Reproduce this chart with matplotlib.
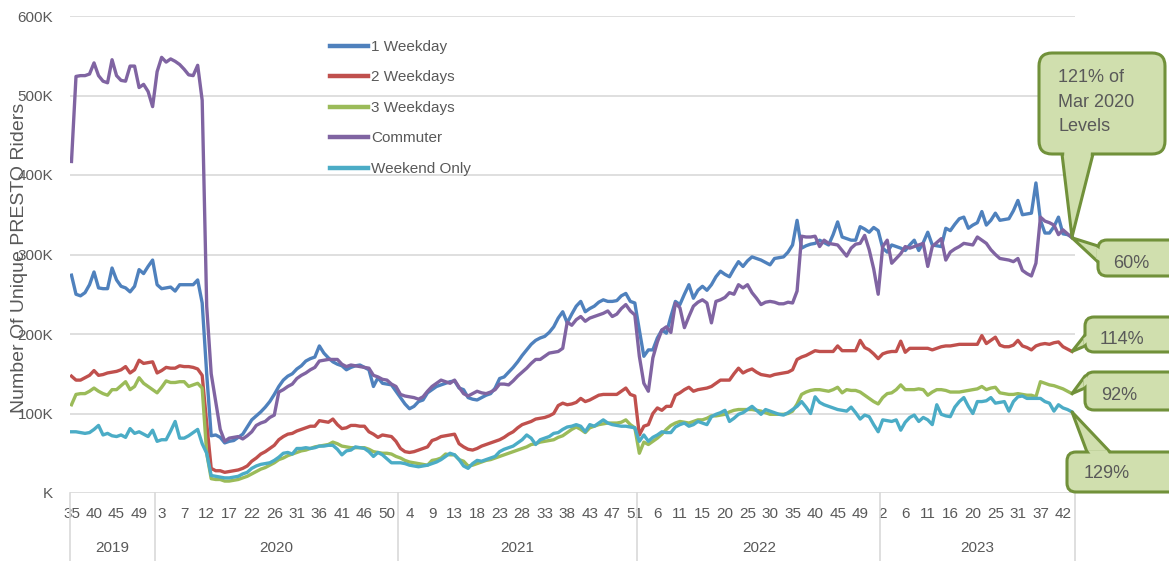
import matplotlib
matplotlib.use("Agg")
import matplotlib.pyplot as plt
import matplotlib.transforms as mtransforms
from matplotlib.patches import FancyBboxPatch, Polygon
import numpy as np

plt.rcParams['font.family'] = ['Liberation Sans', 'DejaVu Sans']

# ---------------- data (thousands of unique riders per week) ----------------
years = ['2019', '2020', '2021', '2022', '2023']
weeks_per_year = [19, 54, 53, 54, 43]
week_tick_labels = ['35', '40', '45', '49',
                    '3', '7', '12', '17', '22', '26', '31', '36', '41', '46', '50',
                    '4', '9', '13', '18', '23', '28', '33', '38', '43', '47', '51',
                    '6', '11', '15', '20', '25', '30', '35', '40', '45', '49',
                    '2', '6', '11', '16', '20', '25', '31', '37', '42']

one_weekday = [
    274, 250, 248, 252, 262, 278, 258, 257, 257, 283,
    268, 260, 258, 253, 260, 281, 276, 285, 293, 262,
    257, 258, 259, 254, 262, 262, 262, 262, 268, 239,
    150, 72, 73, 70, 63, 65, 66, 70, 74, 83,
    92, 97, 102, 108, 115, 124, 134, 142, 147, 150,
    156, 160, 166, 169, 171, 185, 176, 170, 165, 162,
    160, 155, 158, 160, 161, 158, 155, 134, 145, 138,
    137, 136, 128, 120, 112, 106, 109, 115, 117, 126,
    130, 134, 136, 138, 140, 141, 132, 130, 120, 118,
    117, 120, 123, 125, 132, 144, 146, 152, 158, 165,
    173, 180, 187, 192, 195, 197, 202, 209, 220, 228,
    214, 225, 235, 241, 228, 232, 235, 240, 243, 241,
    241, 242, 248, 251, 241, 239, 205, 172, 180, 180,
    195, 205, 201, 222, 241, 237, 250, 262, 245, 255,
    260, 255, 262, 272, 279, 275, 272, 282, 291, 285,
    292, 297, 295, 293, 290, 287, 295, 296, 297, 303,
    312, 343, 308, 311, 313, 314, 318, 315, 312, 325,
    341, 322, 320, 318, 318, 335, 332, 328, 334, 330,
    308, 303, 312, 310, 308, 305, 312, 318, 305, 315,
    328, 312, 311, 310, 333, 330, 338, 345, 347, 333,
    337, 340, 354, 337, 343, 352, 343, 344, 345, 355,
    368, 350, 351, 352, 390, 343, 327, 327, 335, 347,
    326, 325, 322]

two_weekdays = [
    147, 142, 142, 145, 148, 154, 148, 149, 151, 152,
    153, 155, 159, 151, 155, 167, 163, 164, 165, 151,
    154, 158, 157, 157, 160, 159, 159, 158, 156, 148,
    88, 31, 28, 28, 26, 27, 28, 29, 31, 34,
    40, 44, 49, 52, 56, 60, 67, 71, 74, 75,
    78, 80, 82, 84, 84, 91, 90, 89, 93, 86,
    81, 82, 85, 85, 84, 84, 77, 74, 70, 73,
    72, 71, 65, 56, 52, 51, 52, 54, 56, 58,
    66, 68, 71, 72, 73, 74, 62, 58, 55, 54,
    56, 59, 61, 63, 65, 67, 70, 74, 77, 82,
    86, 88, 90, 93, 94, 95, 97, 100, 110, 113,
    111, 112, 114, 119, 115, 117, 120, 123, 124, 124,
    124, 124, 128, 132, 124, 122, 73, 84, 86, 100,
    107, 104, 109, 109, 123, 126, 130, 133, 128, 130,
    131, 132, 134, 138, 142, 142, 142, 150, 157, 151,
    154, 156, 152, 149, 148, 147, 149, 150, 151, 152,
    155, 168, 171, 173, 176, 179, 178, 178, 178, 178,
    185, 179, 179, 179, 179, 192, 183, 180, 175, 169,
    175, 177, 178, 178, 191, 177, 182, 182, 182, 182,
    182, 180, 182, 184, 185, 185, 186, 187, 187, 187,
    187, 187, 198, 188, 192, 196, 186, 184, 184, 186,
    192, 185, 183, 180, 185, 187, 188, 187, 189, 190,
    184, 181, 178]

three_weekdays = [
    111, 124, 125, 125, 128, 132, 128, 125, 123, 130,
    130, 135, 140, 130, 134, 145, 138, 134, 130, 126,
    133, 141, 139, 139, 140, 140, 134, 136, 138, 132,
    50, 18, 17, 17, 15, 15, 16, 17, 19, 21,
    24, 27, 30, 32, 35, 38, 42, 44, 47, 49,
    51, 53, 54, 56, 58, 59, 60, 61, 64, 62,
    59, 58, 57, 57, 57, 57, 55, 52, 51, 50,
    50, 49, 46, 44, 41, 39, 38, 37, 36, 35,
    41, 42, 44, 49, 48, 48, 42, 40, 34, 35,
    37, 39, 41, 42, 44, 46, 48, 50, 52, 54,
    56, 58, 61, 62, 64, 65, 66, 67, 70, 72,
    76, 80, 83, 80, 76, 82, 84, 86, 87, 88,
    88, 88, 89, 92, 86, 82, 50, 64, 61, 65,
    69, 74, 80, 85, 88, 90, 89, 88, 90, 92,
    92, 94, 97, 97, 98, 99, 102, 104, 105, 105,
    105, 105, 104, 103, 101, 99, 99, 99, 99, 100,
    103, 112, 124, 127, 129, 130, 130, 129, 128, 130,
    133, 126, 130, 129, 129, 127, 123, 119, 115, 112,
    120, 125, 126, 130, 136, 130, 130, 130, 131, 130,
    123, 127, 130, 130, 129, 127, 127, 127, 128, 129,
    130, 131, 134, 130, 132, 133, 126, 125, 124, 124,
    125, 124, 123, 123, 121, 140, 138, 136, 135, 133,
    131, 128, 125]

commuter = [
    417, 524, 525, 525, 527, 541, 525, 518, 516, 545,
    525, 519, 518, 537, 537, 510, 514, 505, 486, 530,
    548, 542, 546, 543, 539, 533, 526, 525, 538, 494,
    235, 150, 115, 80, 65, 69, 70, 71, 68, 72,
    77, 85, 88, 90, 95, 98, 127, 130, 134, 137,
    144, 148, 151, 155, 158, 166, 167, 168, 168, 168,
    162, 159, 161, 160, 159, 158, 157, 148, 146, 143,
    142, 137, 134, 124, 122, 121, 120, 118, 121, 128,
    134, 138, 142, 140, 138, 142, 133, 125, 122, 125,
    128, 126, 125, 127, 130, 137, 137, 136, 141, 147,
    152, 157, 163, 168, 168, 172, 176, 177, 178, 182,
    215, 211, 218, 222, 216, 220, 222, 224, 226, 229,
    222, 225, 232, 237, 229, 224, 172, 138, 128, 170,
    190, 205, 209, 202, 239, 233, 208, 222, 235, 240,
    243, 239, 214, 241, 243, 246, 252, 250, 262, 258,
    262, 252, 245, 237, 240, 241, 240, 238, 238, 240,
    239, 254, 323, 322, 322, 323, 310, 318, 314, 313,
    312, 305, 298, 308, 313, 314, 324, 306, 282, 250,
    310, 318, 289, 295, 301, 310, 308, 310, 312, 314,
    285, 310, 315, 320, 293, 303, 307, 310, 314, 313,
    312, 322, 318, 314, 306, 300, 295, 294, 293, 291,
    295, 280, 276, 273, 289, 347, 342, 340, 337, 325,
    331, 326, 321]

weekend_only = [
    77, 77, 76, 75, 76, 80, 85, 73, 75, 72,
    71, 73, 70, 81, 75, 77, 74, 71, 79, 65,
    67, 67, 78, 90, 69, 69, 72, 76, 80, 62,
    50, 22, 21, 20, 19, 19, 20, 21, 24, 26,
    31, 34, 36, 37, 38, 41, 45, 50, 51, 49,
    56, 56, 57, 56, 57, 59, 59, 60, 60, 55,
    48, 53, 54, 58, 57, 56, 52, 46, 51, 48,
    43, 38, 38, 38, 37, 35, 34, 33, 34, 35,
    37, 39, 42, 46, 50, 48, 42, 34, 31, 37,
    41, 40, 42, 44, 46, 52, 55, 57, 59, 63,
    67, 73, 69, 61, 67, 69, 71, 75, 76, 80,
    83, 84, 86, 84, 77, 86, 84, 88, 92, 88,
    86, 85, 84, 84, 83, 82, 65, 73, 65, 70,
    73, 77, 76, 76, 83, 86, 88, 84, 86, 90,
    88, 86, 96, 99, 101, 104, 90, 94, 99, 101,
    105, 109, 104, 99, 105, 103, 101, 99, 98, 101,
    105, 109, 115, 108, 100, 121, 114, 111, 109, 107,
    105, 104, 103, 108, 101, 93, 98, 96, 86, 77,
    92, 91, 90, 92, 79, 89, 95, 98, 90, 95,
    92, 86, 111, 99, 97, 96, 108, 115, 120, 109,
    100, 115, 115, 116, 120, 113, 114, 115, 103, 115,
    121, 122, 119, 119, 119, 119, 115, 113, 103, 111,
    107, 105, 102]

series_names = ['1 Weekday', '2 Weekdays', '3 Weekdays', 'Commuter', 'Weekend Only']
series_values = [one_weekday, two_weekdays, three_weekdays, commuter, weekend_only]
series_colors = ['#4F81BD', '#C0504D', '#9BBB59', '#8064A2', '#4BACC6']

callout_texts = ['121% of\nMar 2020\nLevels', '60%', '114%', '92%', '129%']

n = sum(weeks_per_year)
for s in series_values:
    assert len(s) == n, len(s)

# ---------------- figure ----------------
W, H = 1169, 561
fig = plt.figure(figsize=(W / 100, H / 100), dpi=100)
ax = fig.add_axes([70 / W, 68 / H, 1005 / W, 477 / H])

x = np.arange(n)
lines = []
for name, vals, col in zip(series_names, series_values, series_colors):
    ln, = ax.plot(x, vals, color=col, lw=2.4, label=name, solid_joinstyle='round')
    lines.append(ln)

ax.set_xlim(-0.33, n - 1 + 0.67)
ax.set_ylim(0, 600)
for sp in ax.spines.values():
    sp.set_visible(False)

grey = '#595959'
ax.set_yticks(np.arange(0, 700, 100))
ax.set_yticklabels(['K'] + [f'{v}K' for v in range(100, 700, 100)])
ax.yaxis.grid(True, color='#D9D9D9', lw=1.2)
ax.set_axisbelow(True)
ax.tick_params(axis='y', length=0, pad=12, labelsize=11, labelcolor=grey)

ax.set_xticks(np.arange(0, n, 5))
ax.set_xticklabels(week_tick_labels)
ax.tick_params(axis='x', length=0, pad=10, labelsize=11, labelcolor=grey)

# year group labels and separators
trans = mtransforms.blended_transform_factory(ax.transData, ax.transAxes)
bounds = np.concatenate([[0], np.cumsum(weeks_per_year)]) - 0.5
bounds[0] = ax.get_xlim()[0]
bounds[-1] = ax.get_xlim()[1]
sep_bottom = -68 / 477
for b in bounds:
    ax.plot([b, b], [0, sep_bottom], transform=trans, color='#D9D9D9', lw=1.2,
            clip_on=False)
for i, yr in enumerate(years):
    ax.text((bounds[i] + bounds[i + 1]) / 2, -55 / 477, yr, transform=trans,
            ha='center', va='center', fontsize=11, color=grey)

fig.text(20 / W, 1 - 258 / H, 'Number Of Unique PRESTO Riders', rotation=90,
         ha='center', va='center', fontsize=14, color=grey)

leg = ax.legend(loc='upper left', bbox_to_anchor=(330 / W, 1 - 40 / H),
                bbox_transform=fig.transFigure, frameon=False, fontsize=11,
                labelspacing=1.08, handlelength=2.5, handletextpad=0.2,
                borderpad=0, borderaxespad=0)
for t in leg.get_texts():
    t.set_color(grey)
for lh in leg.get_lines():
    lh.set_linewidth(3.2)

# ---------------- callouts ----------------
ident = mtransforms.IdentityTransform()
fill_c = '#D0DFAE'
edge_c = '#71913A'


def callout(box, base, series_idx, radius):
    x0, y0, x1, y1 = box
    tip = ax.transData.transform((n - 1, series_values[series_idx][-1]))
    b1 = np.array([base[0][0], H - base[0][1]], float)
    b2 = np.array([base[1][0], H - base[1][1]], float)
    tipd = np.array(tip)
    ptr = Polygon([b1, tipd, b2], closed=True, facecolor=fill_c, edgecolor=edge_c,
                  lw=2.2, transform=ident, zorder=5, joinstyle='round')
    fig.add_artist(ptr)
    rect = FancyBboxPatch((x0, H - y1), x1 - x0, y1 - y0,
                          boxstyle=f'round,pad=0,rounding_size={radius}',
                          facecolor=fill_c, edgecolor=edge_c, lw=2.2,
                          transform=ident, zorder=6)
    fig.add_artist(rect)
    # cover the box border where the pointer joins
    d = (b2 - b1) / np.linalg.norm(b2 - b1)
    mid = (b1 + b2) / 2
    out = tipd - mid
    out = out / np.linalg.norm(out)
    c1 = b1 + d * 2.2
    c2 = b2 - d * 2.2
    cov = Polygon([c1 + out * 2.2, c2 + out * 2.2, c2 - out * 3, c1 - out * 3],
                  closed=True, facecolor=fill_c, edgecolor='none',
                  transform=ident, zorder=7)
    fig.add_artist(cov)


callout((1039, 53, 1165, 154), ((1062, 154), (1093, 154)), 0, 13)
callout((1098, 240, 1185, 276), ((1098, 246), (1098, 262)), 3, 9)
callout((1085, 317, 1185, 352), ((1085, 335), (1085, 346)), 1, 9)
callout((1085, 372, 1185, 410), ((1085, 376), (1085, 388)), 2, 9)
callout((1067, 452, 1185, 492), ((1087, 452), (1110, 452)), 4, 9)

txt_kw = dict(fontsize=13, color=grey, va='center', ha='left', zorder=8)
for k, line in enumerate(callout_texts[0].split('\n')):
    fig.text(1058 / W, 1 - (77 + 25 * k) / H, line, **txt_kw)
fig.text(1113 / W, 1 - 263 / H, callout_texts[1], **txt_kw)
fig.text(1100 / W, 1 - 339 / H, callout_texts[2], **txt_kw)
fig.text(1101 / W, 1 - 396 / H, callout_texts[3], **txt_kw)
fig.text(1084 / W, 1 - 473 / H, callout_texts[4], **txt_kw)

fig.savefig('out.png', dpi=100)
